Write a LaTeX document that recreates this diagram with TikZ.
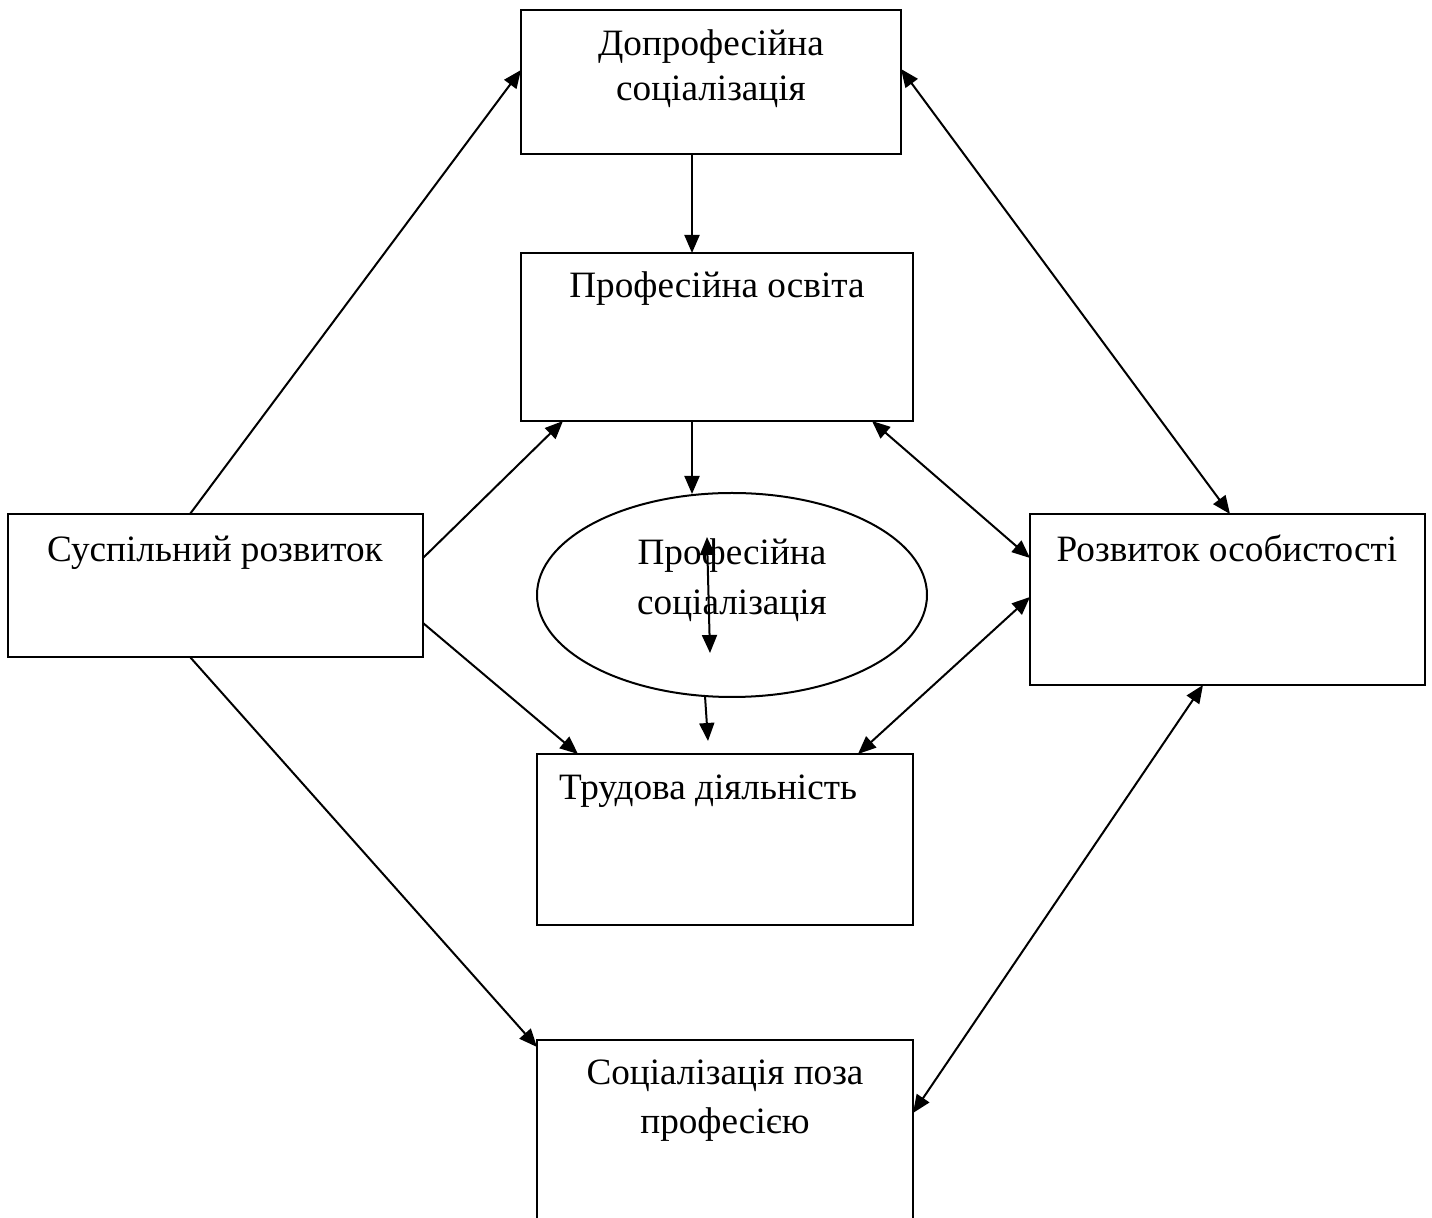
\documentclass[tikz,border=0pt]{standalone}
\usepackage{fontspec}
\setmainfont{Liberation Serif}
\usetikzlibrary{arrows.meta,shapes.geometric,calc}
\tikzset{
  box/.style={draw, line width=1pt, rectangle, anchor=north west, inner sep=0pt, outer sep=0pt},
  lbl/.style={font=\fontsize{18.6}{22}\selectfont, align=center, inner sep=0pt, anchor=base},
  arr/.style={line width=1pt, -{Triangle[length=9pt,width=7.5pt]}},
  darr/.style={line width=1pt, {Triangle[length=9pt,width=7.5pt]}-{Triangle[length=9pt,width=7.5pt]}},
}
\begin{document}
\begin{tikzpicture}[x=0.5pt,y=-0.5pt]
\clip (0,0) rectangle (1432,1218);
\fill[white] (0,0) rectangle (1432,1218);
% boxes
\node[box, minimum width=190pt, minimum height=72pt] (dopro) at (521,10) {};
\node[box, minimum width=196pt, minimum height=84pt] (prof) at (521,253) {};
\node[box, minimum width=207.5pt, minimum height=71.5pt] (susp) at (8,514) {};
\node[box, minimum width=197.5pt, minimum height=85.5pt] (rozv) at (1030,514) {};
\node[box, minimum width=188pt, minimum height=85.5pt] (trud) at (537,754) {};
\node[box, minimum width=188pt, minimum height=110pt] (poza) at (537,1040) {};
\node[draw, line width=1pt, ellipse, inner sep=0pt, outer sep=0pt, minimum width=195pt, minimum height=102pt] (ell) at (732,595) {};
% texts
\node[lbl] (t1a) at (711,56) {Допрофесійна};
\node[lbl] (t1b) at (711,101) {соціалізація};
\node[lbl] (t2) at (717,298) {Професійна освіта};
\node[lbl] (t3) at (215,562) {Суспільний розвиток};
\node[lbl] (t4) at (1227,562) {Розвиток особистості};
\node[lbl] (t5a) at (732,565) {Професійна};
\node[lbl] (t5b) at (732,615) {соціалізація};
\node[lbl] (t6) at (708,800) {Трудова діяльність};
\node[lbl] (t7a) at (725,1085) {Соціалізація поза};
\node[lbl] (t7b) at (725,1134) {професією};
% free ends
\coordinate (ellin) at ($(ell.center)+(-40,-101)$);
\coordinate (ellout) at ($(ell.center)+(-27,101)$);
\coordinate (trudend) at ($(trud.north west)+(171,-13)$);
\coordinate (inA) at ($(ell.center)+(-25,-58)$);
\coordinate (inB) at ($(ell.center)+(-22,58)$);
% connectors
\draw[arr] ($(dopro.south west)+(171,0)$) -- ($(prof.north west)+(171,0)$);
\draw[arr] ($(prof.south west)+(171,0)$) -- (ellin);
\draw[arr] (ellout) -- (trudend);
\draw[darr] (inA) -- (inB);
\draw[arr] ($(susp.north west)+(182,0)$) -- ($(dopro.north west)+(0,60)$);
\draw[arr] ($(susp.north east)+(0,44)$) -- ($(prof.south west)+(42,0)$);
\draw[arr] ($(susp.north east)+(0,109)$) -- ($(trud.north west)+(41,0)$);
\draw[arr] ($(susp.south west)+(182,0)$) -- ($(poza.north west)+(0,7)$);
\draw[darr] ($(dopro.north east)+(0,59)$) -- ($(rozv.north west)+(200,0)$);
\draw[darr] ($(prof.south east)+(-41,0)$) -- ($(rozv.north west)+(0,44)$);
\draw[darr] ($(trud.north east)+(-55,0)$) -- ($(rozv.north west)+(0,83)$);
\draw[darr] ($(rozv.south west)+(173,0)$) -- ($(poza.north east)+(0,73)$);
\end{tikzpicture}
\end{document}
